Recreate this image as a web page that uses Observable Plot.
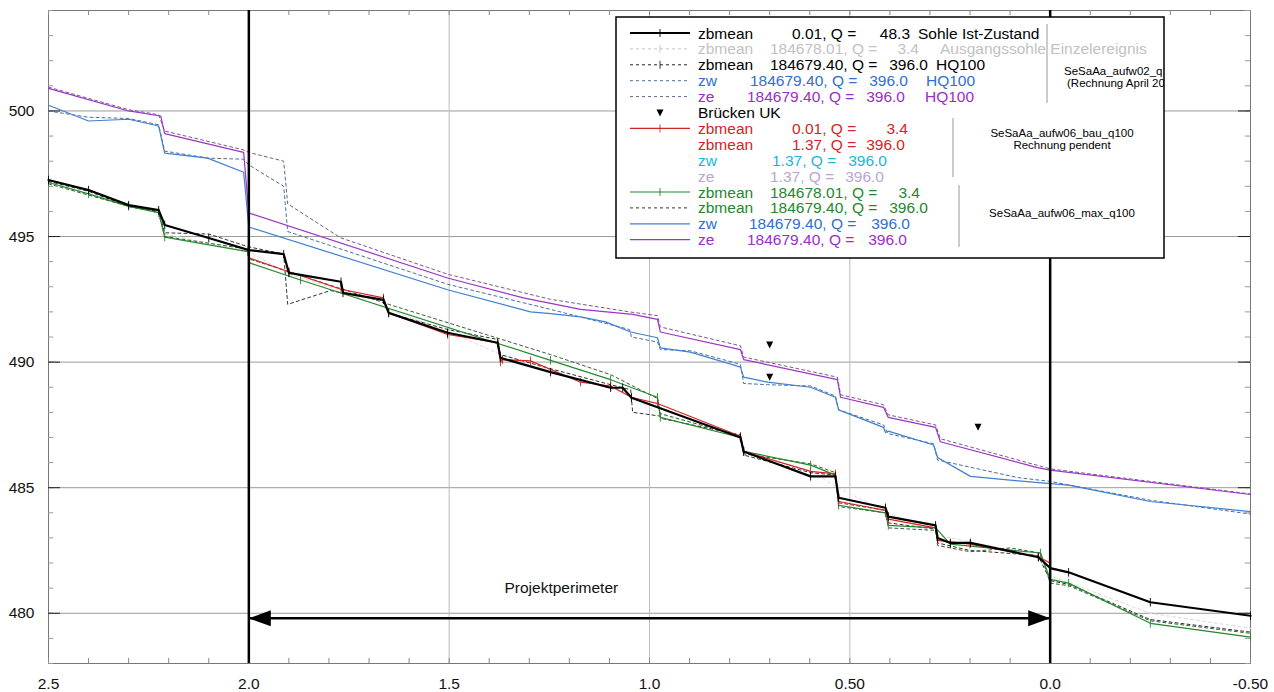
<!DOCTYPE html>
<html><head><meta charset="utf-8">
<script src="https://cdn.jsdelivr.net/npm/d3@7"></script>
<script src="https://cdn.jsdelivr.net/npm/@observablehq/plot@0.6"></script>
<style>body{margin:0;background:#fff;} svg{font-family:"Liberation Sans",Arial,sans-serif;}</style>
</head><body><div id="chart"></div><script>
// ---- tick values / labels
const xTicks = [2.5, 2.0, 1.5, 1.0, 0.5, 0.0, -0.5];
const xTickLabels = ["2.5", "2.0", "1.5", "1.0", "0.50", "0.0", "-0.50"];
const yTicks = [480, 485, 490, 495, 500];
const xMinor = [2.5,2.4,2.3,2.2,2.1,2.0,1.9,1.8,1.7,1.6,1.5,1.4,1.3,1.2,1.1,1.0,0.9,0.8,0.7,0.6,0.5,0.4,0.3,0.2,0.1,0.0,-0.1,-0.2,-0.3,-0.4,-0.5];
const yMinor = [478,479,480,481,482,483,484,485,486,487,488,489,490,491,492,493,494,495,496,497,498,499,500,501,502,503,504];
const perimeter = [2.0, 0.0];
const perimeterY = 479.8;
const perimeterLabel = "Projektperimeter";

// ---- series [km, m ü.M.]
const sohleIst = [[2.5,497.25],[2.40,496.85],[2.30,496.25],[2.225,496.05],[2.21,495.46],[2.10,494.94],[2.0,494.46],[1.913,494.3],[1.90,493.55],[1.77,493.2],[1.765,492.76],[1.664,492.48],[1.651,491.96],[1.504,491.17],[1.379,490.77],[1.372,490.17],[1.247,489.6],[1.097,488.98],[1.067,488.98],[1.045,488.58],[0.773,487.0],[0.765,486.44],[0.598,485.45],[0.536,485.45],[0.528,484.6],[0.411,484.2],[0.404,483.85],[0.286,483.5],[0.281,483.0],[0.249,482.8],[0.199,482.8],[0.029,482.23],[0.0,481.8],[-0.046,481.63],[-0.25,480.44],[-0.5,479.9]];
const ausgangssohle = [[2.5,497.18],[2.3,496.2],[2.225,496.0],[2.21,495.1],[2.0,494.4],[1.9,493.5],[1.77,492.85],[1.65,492.1],[1.50,491.2],[1.37,490.3],[1.25,489.7],[1.05,488.7],[0.97,487.9],[0.77,487.05],[0.765,486.4],[0.60,485.7],[0.53,485.0],[0.41,484.05],[0.28,483.1],[0.03,482.3],[0.0,481.5],[-0.25,480.0],[-0.5,479.4]];
const zbAufw02 = [[2.5,497.2],[2.4,496.8],[2.3,496.2],[2.225,496.0],[2.21,495.15],[2.10,495.1],[2.003,494.6],[1.913,494.3],[1.903,492.3],[1.796,492.85],[1.766,492.75],[1.664,492.45],[1.651,491.95],[1.504,491.3],[1.379,490.9],[1.372,490.3],[1.25,489.75],[1.097,489.1],[1.047,488.9],[1.042,488.0],[0.973,487.85],[0.968,487.75],[0.773,487.1],[0.765,486.3],[0.598,485.6],[0.536,485.5],[0.528,484.4],[0.411,484.1],[0.404,483.6],[0.286,483.35],[0.281,482.8],[0.2,482.5],[0.03,482.3],[0.0,481.3],[-0.046,481.15],[-0.25,479.75],[-0.5,479.25]];
const zwAufw02 = [[2.5,500.0],[2.4,499.75],[2.3,499.7],[2.225,499.45],[2.21,498.4],[2.1,498.12],[2.013,498.08],[2.0,497.85],[1.913,497.0],[1.903,495.2],[1.504,493.1],[1.247,492.1],[1.05,491.3],[1.045,491.0],[0.98,490.8],[0.973,490.5],[0.898,490.45],[0.793,490.0],[0.773,489.9],[0.765,489.15],[0.705,489.1],[0.598,489.05],[0.536,488.65],[0.528,488.1],[0.416,487.5],[0.404,487.15],[0.291,486.75],[0.281,486.1],[0.08,485.4],[0.0,485.25],[-0.25,484.5],[-0.5,483.95]];
const zeAufw02 = [[2.5,500.95],[2.3,500.05],[2.225,499.85],[2.21,499.2],[2.013,498.45],[2.0,498.35],[1.913,498.0],[1.903,496.3],[1.771,494.95],[1.504,493.5],[1.247,492.5],[1.05,492.0],[0.98,491.85],[0.973,491.4],[0.773,490.65],[0.765,490.2],[0.531,489.4],[0.523,488.7],[0.416,488.3],[0.404,487.9],[0.286,487.5],[0.274,486.95],[0.0,485.75],[-0.5,484.75]];
const zbBau = [[2.0,494.15],[1.90,493.6],[1.77,492.9],[1.664,492.56],[1.651,491.96],[1.504,491.1],[1.379,490.77],[1.372,490.0],[1.367,490.1],[1.297,490.05],[1.172,489.2],[1.097,489.05],[1.045,488.6],[0.98,488.35],[0.773,487.05],[0.765,486.45],[0.598,485.65],[0.536,485.55],[0.528,484.45],[0.411,484.1],[0.404,483.75],[0.286,483.4],[0.281,482.9],[0.2,482.75],[0.03,482.25],[0.0,482.0]];
const zbMax34 = [[2.5,497.15],[2.40,496.7],[2.30,496.2],[2.225,495.95],[2.21,494.98],[2.003,494.4],[1.998,493.95],[1.871,493.27],[1.247,490.07],[1.097,489.3],[0.98,488.6],[0.973,487.8],[0.773,487.0],[0.765,486.45],[0.598,485.9],[0.536,485.5],[0.528,484.3],[0.411,484.0],[0.404,483.5],[0.286,483.4],[0.249,482.75],[0.024,482.4],[0.0,481.35],[-0.046,481.2],[-0.25,479.6],[-0.5,479.05]];
const zbMax396 = [[2.5,497.1],[2.4,496.65],[2.3,496.2],[2.225,495.95],[2.21,495.0],[2.003,494.5],[1.998,494.1],[1.871,493.45],[1.651,492.3],[1.247,490.3],[1.097,489.5],[0.98,488.55],[0.973,487.95],[0.773,487.05],[0.765,486.35],[0.598,485.95],[0.536,485.6],[0.528,484.25],[0.411,484.0],[0.404,483.4],[0.286,483.3],[0.281,482.7],[0.2,482.45],[0.1,482.6],[0.024,482.4],[0.0,481.2],[-0.046,481.1],[-0.25,479.7],[-0.5,479.2]];
const zwMax = [[2.5,500.23],[2.4,499.6],[2.3,499.67],[2.225,499.4],[2.21,498.32],[2.103,498.12],[2.013,497.56],[2.0,495.38],[1.504,492.88],[1.297,492.0],[1.247,491.93],[1.172,491.8],[1.110,491.6],[1.047,491.2],[0.980,490.97],[0.973,490.57],[0.898,490.4],[0.793,489.9],[0.773,489.8],[0.765,489.4],[0.705,489.2],[0.598,489.0],[0.536,488.6],[0.528,488.1],[0.416,487.4],[0.411,487.2],[0.404,487.25],[0.291,486.7],[0.281,486.2],[0.199,485.45],[0.029,485.2],[-0.046,485.1],[-0.25,484.45],[-0.5,484.05]];
const zeMax = [[2.5,500.9],[2.3,500.0],[2.22,499.8],[2.21,499.1],[2.013,498.35],[2.0,495.94],[1.504,493.35],[1.315,492.56],[1.172,492.1],[1.042,491.9],[0.98,491.7],[0.973,491.2],[0.773,490.5],[0.765,490.1],[0.531,489.3],[0.523,488.6],[0.416,488.2],[0.404,487.8],[0.286,487.4],[0.274,486.83],[0.032,485.8],[0.0,485.7],[-0.5,484.73]];
const brueckenUK = [[0.70,490.7],[0.70,489.42],[0.18,487.43]];

// ---- legend texts
const legendNames = ["zbmean","zbmean","zbmean","zw","ze","Brücken UK","zbmean","zbmean","zw","ze","zbmean","zbmean","zw","ze"];
const legendRuns = ["0.01, Q =","184678.01, Q =","184679.40, Q =","184679.40, Q =","184679.40, Q =","","0.01, Q =","1.37, Q =","1.37, Q =","1.37, Q =","184678.01, Q =","184679.40, Q =","184679.40, Q =","184679.40, Q ="];
const legendQ = ["48.3","3.4","396.0","396.0","396.0","","3.4","396.0","396.0","396.0","3.4","396.0","396.0","396.0"];
const legendNotes = ["Sohle Ist-Zustand","Ausgangssohle Einzelereignis","HQ100","HQ100","HQ100","","","","","","","","",""];
const groupLabels = [["SeSaAa_aufw02_q100","(Rechnung April 2016)"],["SeSaAa_aufw06_bau_q100","Rechnung pendent"],["SeSaAa_aufw06_max_q100"]];

// ---- styles
const C = {black:"#000", gray:"#c2c2c2", blue:"#3f7fd0", purple:"#9b35c4", red:"#d42424", green:"#23882d", cyan:"#22b4d8", lilac:"#bba5d5", dark:"#333"};
const series = [
  {data: ausgangssohle, stroke: "#dcdcdc", w: 1, dash: "3,3", ticks: false},
  {data: zbAufw02, stroke: C.dark, w: 1, dash: "3,3", ticks: false},
  {data: zwAufw02, stroke: "#4a6f9a", w: 1, dash: "3,3", ticks: false},
  {data: zeAufw02, stroke: "#7a5a8a", w: 1, dash: "3,3", ticks: false},
  {data: zbMax396, stroke: "#3a5a3a", w: 1, dash: "3,3", ticks: false},
  {data: zwMax, stroke: C.blue, w: 1.2, dash: null, ticks: false},
  {data: zeMax, stroke: C.purple, w: 1.2, dash: null, ticks: false},
  {data: zbMax34, stroke: C.green, w: 1.2, dash: null, ticks: true},
  {data: zbBau, stroke: C.red, w: 1.2, dash: null, ticks: true},
  {data: sohleIst, stroke: C.black, w: 2.2, dash: null, ticks: true}
];

const vtick = {draw(ctx, size){ const r = Math.sqrt(size); ctx.moveTo(0,-r); ctx.lineTo(0,r); }};
const triDown = {draw(ctx){ ctx.moveTo(-3.5,-3); ctx.lineTo(3.5,-3); ctx.lineTo(0,4); ctx.closePath(); }};
const headLeft = {draw(ctx){ ctx.moveTo(0,0); ctx.lineTo(22,-8); ctx.lineTo(22,8); ctx.closePath(); }};
const headRight = {draw(ctx){ ctx.moveTo(0,0); ctx.lineTo(-22,-8); ctx.lineTo(-22,8); ctx.closePath(); }};

const marks = [
  Plot.ruleY(yTicks, {stroke: "#9a9a9a", strokeWidth: 1}),
  Plot.ruleX([1.5, 1.0, 0.5], {stroke: "#bdbdbd", strokeWidth: 1}),
  Plot.frame({stroke: "#777"}),
  Plot.ruleX(xMinor, {x: d => d, y1: 478, y2: 478.2, stroke: "#888"}),
  Plot.ruleX(xMinor, {x: d => d, y1: 504, y2: 503.8, stroke: "#888"}),
  Plot.ruleY(yMinor, {y: d => d, x1: 2.5, x2: 2.487, stroke: "#999"}),
  Plot.ruleY(yMinor, {y: d => d, x1: -0.5, x2: -0.487, stroke: "#999"}),
  Plot.ruleY(yTicks, {y: d => d, x1: 2.5, x2: 2.47, stroke: "#222"}),
  Plot.ruleY(yTicks, {y: d => d, x1: -0.5, x2: -0.47, stroke: "#222"}),
  Plot.axisX(xTicks, {tickSize: 0, tickPadding: 14, fontSize: 15.5, fill: "#111", tickFormat: d => xTickLabels[xTicks.indexOf(d)], label: null}),
  Plot.axisY(yTicks, {tickSize: 0, tickPadding: 14, fontSize: 15.5, fill: "#111", label: null}),
];
for (const s of series) {
  marks.push(Plot.line(s.data, {x: d => d[0], y: d => d[1], stroke: s.stroke, strokeWidth: s.w, strokeDasharray: s.dash}));
  if (s.ticks) marks.push(Plot.dot(s.data, {x: d => d[0], y: d => d[1], symbol: vtick, r: 2.4, fill: "none", stroke: s.stroke, strokeWidth: 0.9}));
}
marks.push(
  Plot.ruleX(perimeter, {stroke: "#000", strokeWidth: 2.5}),
  Plot.dot(brueckenUK, {x: d => d[0], y: d => d[1], symbol: triDown, fill: "#000", stroke: "none"}),
  Plot.ruleY([perimeterY], {x1: perimeter[0], x2: perimeter[1], stroke: "#000", strokeWidth: 2.5, inset: 0}),
  Plot.dot([[perimeter[0], perimeterY]], {x: d => d[0], y: d => d[1], symbol: headLeft, fill: "#000", stroke: "none"}),
  Plot.dot([[perimeter[1], perimeterY]], {x: d => d[0], y: d => d[1], symbol: headRight, fill: "#000", stroke: "none"}),
  Plot.text([perimeterLabel], {x: (perimeter[0] + perimeter[1]) / 2 + 0.22, y: 481.0, text: d => d, fontSize: 15.5, fill: "#111"})
);

const svg = Plot.plot({
  width: 1274, height: 692,
  marginLeft: 48, marginRight: 24, marginTop: 10, marginBottom: 29,
  x: {domain: [2.5, -0.5]},
  y: {domain: [478, 504]},
  style: {fontFamily: "'Liberation Sans', Arial, sans-serif", background: "#fff", overflow: "visible"},
  marks
});
document.getElementById("chart").appendChild(svg);

// ---- legend (drawn on top, pixel layout)
const box = {x: 616, y: 17, w: 548, h: 241};
const L = d3.select(svg).append("g").attr("font-size", 15.5).attr("text-anchor", "start");
L.append("defs").append("clipPath").attr("id", "legclip").append("rect").attr("x", box.x).attr("y", box.y).attr("width", box.w).attr("height", box.h);
L.append("rect").attr("x", box.x).attr("y", box.y).attr("width", box.w).attr("height", box.h).attr("fill", "#fff");
const rowY = i => 33 + i * 15.9;
const textColors = ["#000", C.gray, "#000", "#2f6fd0", "#9a2ec8", "#000", C.red, C.red, C.cyan, C.lilac, C.green, C.green, "#2f6fd0", "#9a2ec8"];
const runX  = [792, 770, 770, 750, 747, 0, 792, 792, 772, 770, 770, 770, 749, 747];
const qEndX = [910, 919, 928, 908, 905, 0, 908, 905, 887, 884, 920, 928, 910, 907];
const noteX = [918, 940, 936, 926, 925, 0, 0, 0, 0, 0, 0, 0, 0, 0];
const samples = [
  {stroke: "#000", w: 2, dash: null, tick: true},
  {stroke: C.gray, w: 1, dash: "3,3", tick: true},
  {stroke: "#222", w: 1, dash: "3,3", tick: true},
  {stroke: "#4a6f9a", w: 1, dash: "3,3", tick: false},
  {stroke: "#7a5a8a", w: 1, dash: "3,3", tick: false},
  {tri: true},
  {stroke: C.red, w: 1.2, dash: null, tick: true},
  null, null, null,
  {stroke: C.green, w: 1.2, dash: null, tick: true},
  {stroke: "#333", w: 1, dash: "3,3", tick: false},
  {stroke: C.blue, w: 1.2, dash: null, tick: false},
  {stroke: C.purple, w: 1.2, dash: null, tick: false}
];
legendNames.forEach((name, i) => {
  const y = rowY(i);
  const s = samples[i];
  if (s && s.tri) {
    L.append("path").attr("d", "M-3.5,-3L3.5,-3L0,4Z").attr("transform", `translate(660,${y})`).attr("fill", "#000");
  } else if (s) {
    L.append("line").attr("x1", 630).attr("x2", 690).attr("y1", y).attr("y2", y).attr("stroke", s.stroke).attr("stroke-width", s.w).attr("stroke-dasharray", s.dash);
    if (s.tick) L.append("line").attr("x1", 660).attr("x2", 660).attr("y1", y - 4).attr("y2", y + 4).attr("stroke", s.stroke).attr("stroke-width", 0.9);
  }
  const col = textColors[i];
  L.append("text").attr("x", 698).attr("y", y).attr("dy", "0.36em").attr("text-anchor", "start").attr("fill", col).text(name);
  if (legendRuns[i]) L.append("text").attr("x", runX[i]).attr("y", y).attr("dy", "0.36em").attr("text-anchor", "start").attr("fill", col).text(legendRuns[i]);
  if (legendQ[i]) L.append("text").attr("x", qEndX[i]).attr("y", y).attr("dy", "0.36em").attr("text-anchor", "end").attr("fill", col).text(legendQ[i]);
  if (legendNotes[i]) L.append("text").attr("x", noteX[i]).attr("y", y).attr("dy", "0.36em").attr("text-anchor", "start").attr("fill", col).text(legendNotes[i]);
});
// group separators and labels
const seps = [[1047, 24, 103], [953, 118, 177], [959, 185, 247]];
seps.forEach(([x, y1, y2]) => L.append("line").attr("x1", x).attr("x2", x).attr("y1", y1).attr("y2", y2).attr("stroke", "#999").attr("stroke-width", 1));
const groupPos = [{x: 1064, anchor: "start", y: [71, 83]}, {x: 1062, anchor: "middle", y: [133, 145]}, {x: 1062, anchor: "middle", y: [213]}];
groupLabels.forEach((lines, g) => lines.forEach((t, k) => {
  L.append("text").attr("x", groupPos[g].x + (g === 0 && k === 1 ? 3 : 0)).attr("y", groupPos[g].y[k]).attr("dy", "0.36em")
   .attr("clip-path", "url(#legclip)")
   .attr("text-anchor", groupPos[g].anchor).attr("font-size", 11.5).attr("fill", "#000").text(t);
}));
L.append("rect").attr("x", box.x).attr("y", box.y).attr("width", box.w).attr("height", box.h).attr("fill", "none").attr("stroke", "#000").attr("stroke-width", 1.5);
</script></body></html>
